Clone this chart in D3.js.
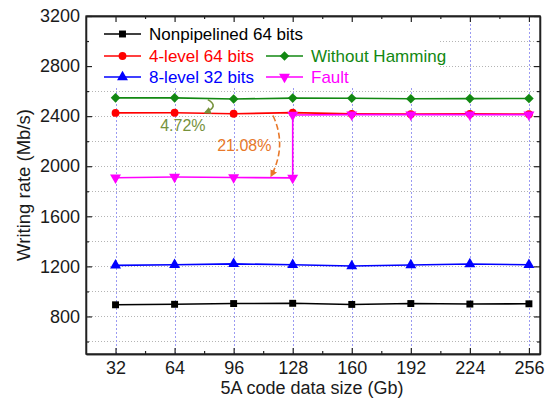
<!DOCTYPE html>
<html>
<head>
<meta charset="utf-8">
<script src="https://cdn.jsdelivr.net/npm/d3@7"></script>
<style>
  html, body { margin: 0; padding: 0; background: #fff; }
  svg { display: block; font-family: "Liberation Sans", Arial, sans-serif; }
</style>
</head>
<body>
<svg id="chart" width="551" height="403"></svg>
<script>
// ---- data ----
const xValues = [32, 64, 96, 128, 160, 192, 224, 256];
const nonpipelined = [893, 897, 903, 905, 896, 903, 899, 901];
const level4 = [2426, 2427, 2419, 2428, 2418, 2416, 2418, 2416];
const level8 = [1208, 1213, 1220, 1213, 1203, 1211, 1219, 1213];
const withoutHamming = [2546, 2546, 2537, 2544, 2543, 2539, 2540, 2541];
const faultX = [32, 64, 96, 128, 128, 160, 192, 224, 256];
const fault = [1908, 1914, 1910, 1907, 2409, 2412, 2412, 2412, 2412];

const xTicks = [32, 64, 96, 128, 160, 192, 224, 256];
const xMinorTicks = [48, 80, 112, 144, 176, 208, 240];
const yTicks = [800, 1200, 1600, 2000, 2400, 2800, 3200];
const yMinorTicks = [600, 1000, 1400, 1800, 2200, 2600, 3000];
const yGrid = [600, 800, 1000, 1200, 1400, 1600, 1800, 2000, 2200, 2400, 2600, 2800, 3000];

const seriesNames = ["Nonpipelined 64 bits", "4-level 64 bits", "8-level 32 bits", "Without Hamming", "Fault"];
const seriesColors = ["#000000", "#ff0000", "#0000ff", "#128812", "#ff00ff"];
const seriesSymbols = ["square", "circle", "triangleUp", "diamond", "triangleDown"];

const annotationLabels = ["4.72%", "21.08%"];
const annotationColors = ["#76923c", "#e8782a"];
// text anchor points (data coords) and arrow start/control/end (data coords)
const annotationText = [[68.5, 2280], [101.8, 2120]];
const annotationArrows = [
  [[82, 2532], [88.5, 2478], [80.5, 2428]],
  [[117.3, 2405], [125, 2165], [116.3, 1922]]
];

// ---- layout ----
const svg = d3.select("#chart");
const L = 86, T = 16, R = 540, B = 354;
const FONT = '"Liberation Sans", Arial, sans-serif';
const x = d3.scaleLinear().domain([16, 262]).range([L, R]);
const y = d3.scaleLinear().domain([500, 3200]).range([B, T]);

// grid
const grid = svg.append("g");
grid.selectAll("line.h").data(yGrid).join("line")
  .attr("x1", L).attr("x2", R)
  .attr("y1", d => Math.round(y(d)) + 0.5).attr("y2", d => Math.round(y(d)) + 0.5)
  .attr("stroke", "#b4b4b4").attr("stroke-width", 1).attr("stroke-dasharray", "1,2");
grid.selectAll("line.v").data(xTicks).join("line")
  .attr("x1", d => Math.round(x(d)) + 0.5).attr("x2", d => Math.round(x(d)) + 0.5)
  .attr("y1", T).attr("y2", B)
  .attr("stroke", "#9a9af2").attr("stroke-width", 1).attr("stroke-dasharray", "2,2");

// legend background
svg.append("rect").attr("x", L + 1).attr("y", T + 1).attr("width", 351).attr("height", 70).attr("fill", "#fff");

// symbols
function symbolPath(kind) {
  switch (kind) {
    case "square": return d3.symbol(d3.symbolSquare, 48)();
    case "circle": return d3.symbol(d3.symbolCircle, 48)();
    case "triangleUp": return d3.symbol(d3.symbolTriangle, 52)();
    case "triangleDown": return d3.symbol(d3.symbolTriangle, 52)();
    case "diamond": return d3.symbol(d3.symbolSquare, 46)();
  }
}
function symbolRotate(kind) {
  if (kind === "triangleDown") return 180;
  if (kind === "diamond") return 45;
  return 0;
}

const allSeries = [
  { xs: xValues, ys: nonpipelined },
  { xs: xValues, ys: level4 },
  { xs: xValues, ys: level8 },
  { xs: xValues, ys: withoutHamming },
  { xs: faultX, ys: fault }
];

const line = d3.line().x(d => x(d[0])).y(d => y(d[1]));
allSeries.forEach((s, i) => {
  const pts = s.xs.map((v, j) => [v, s.ys[j]]);
  const g = svg.append("g");
  g.append("path").datum(pts).attr("d", line)
    .attr("fill", "none").attr("stroke", seriesColors[i]).attr("stroke-width", 1.6);
  g.selectAll("path.m").data(pts).join("path")
    .attr("d", symbolPath(seriesSymbols[i]))
    .attr("transform", d => `translate(${x(d[0])},${y(d[1])}) rotate(${symbolRotate(seriesSymbols[i])})`)
    .attr("fill", seriesColors[i]);
});

// axes (ticks inward)
function addAxis(axis, transform, labels) {
  const g = svg.append("g").attr("transform", transform).call(axis);
  g.attr("font-family", FONT).attr("font-size", 18);
  g.select(".domain").attr("stroke", "#222").attr("stroke-width", 1.3);
  g.selectAll(".tick line").attr("stroke", "#222").attr("stroke-width", 1.2);
  g.selectAll("text").attr("fill", "#1a1a1a");
  if (!labels) g.selectAll("text").remove();
  return g;
}
const fmt = d3.format("d");
addAxis(d3.axisBottom(x).tickValues(xTicks).tickFormat(fmt).tickSizeInner(-6).tickSizeOuter(0).tickPadding(7), `translate(0,${B})`, true);
addAxis(d3.axisBottom(x).tickValues(xMinorTicks).tickSizeInner(-3).tickSizeOuter(0), `translate(0,${B})`, false);
addAxis(d3.axisTop(x).tickValues(xTicks).tickSizeInner(-6).tickSizeOuter(0), `translate(0,${T})`, false);
addAxis(d3.axisTop(x).tickValues(xMinorTicks).tickSizeInner(-3).tickSizeOuter(0), `translate(0,${T})`, false);
addAxis(d3.axisLeft(y).tickValues(yTicks).tickFormat(fmt).tickSizeInner(-6).tickSizeOuter(0).tickPadding(6), `translate(${L},0)`, true);
addAxis(d3.axisLeft(y).tickValues(yMinorTicks).tickSizeInner(-3).tickSizeOuter(0), `translate(${L},0)`, false);
addAxis(d3.axisRight(y).tickValues(yTicks).tickSizeInner(-6).tickSizeOuter(0), `translate(${R},0)`, false);
addAxis(d3.axisRight(y).tickValues(yMinorTicks).tickSizeInner(-3).tickSizeOuter(0), `translate(${R},0)`, false);
svg.append("rect").attr("x", L).attr("y", T).attr("width", R - L).attr("height", B - T)
  .attr("fill", "none").attr("stroke", "#222").attr("stroke-width", 1.3);

// axis titles
svg.append("text").attr("x", (L + R) / 2 - 1).attr("y", 394).attr("text-anchor", "middle")
  .attr("font-family", FONT).attr("font-size", 18).attr("fill", "#1a1a1a").text("5A code data size (Gb)");
svg.append("text").attr("transform", `translate(30,${(T + B) / 2}) rotate(-90)`).attr("text-anchor", "middle")
  .attr("font-family", FONT).attr("font-size", 18.5).attr("fill", "#1a1a1a").text("Writing rate (Mb/s)");

// legend
const legendItems = [
  { i: 0, lx: 104, ly: 34 },
  { i: 1, lx: 104, ly: 56 },
  { i: 3, lx: 266, ly: 56 },
  { i: 2, lx: 104, ly: 77 },
  { i: 4, lx: 266, ly: 77 }
];
const lg = svg.append("g");
legendItems.forEach(it => {
  const c = seriesColors[it.i];
  lg.append("line").attr("x1", it.lx).attr("x2", it.lx + 37).attr("y1", it.ly).attr("y2", it.ly)
    .attr("stroke", c).attr("stroke-width", 1.6);
  lg.append("path").attr("d", symbolPath(seriesSymbols[it.i]))
    .attr("transform", `translate(${it.lx + 18.5},${it.ly}) rotate(${symbolRotate(seriesSymbols[it.i])})`)
    .attr("fill", c);
  lg.append("text").attr("x", it.lx + 45).attr("y", it.ly).attr("dy", "0.36em")
    .attr("font-family", FONT).attr("font-size", 17).attr("fill", c).text(seriesNames[it.i]);
});

// annotations
const defs = svg.append("defs");
annotationColors.forEach((c, k) => {
  defs.append("marker").attr("id", "ah" + k).attr("viewBox", "0 0 10 10")
    .attr("refX", 8).attr("refY", 5).attr("markerWidth", 4.5).attr("markerHeight", 4.5)
    .attr("markerUnits", "strokeWidth").attr("orient", "auto")
    .append("path").attr("d", "M0,0 L10,5 L0,10 z").attr("fill", c);
});
annotationArrows.forEach((a, k) => {
  const p = d3.path();
  p.moveTo(x(a[0][0]), y(a[0][1]));
  p.quadraticCurveTo(x(a[1][0]), y(a[1][1]), x(a[2][0]), y(a[2][1]));
  svg.append("path").attr("d", p.toString()).attr("fill", "none")
    .attr("stroke", annotationColors[k]).attr("stroke-width", 1.6)
    .attr("stroke-dasharray", k === 1 ? "6,3" : null)
    .attr("marker-end", `url(#ah${k})`);
  svg.append("text").attr("x", x(annotationText[k][0])).attr("y", y(annotationText[k][1]))
    .attr("text-anchor", "middle").attr("font-family", FONT).attr("font-size", 16).attr("fill", annotationColors[k])
    .text(annotationLabels[k]);
});
</script>
</body>
</html>
